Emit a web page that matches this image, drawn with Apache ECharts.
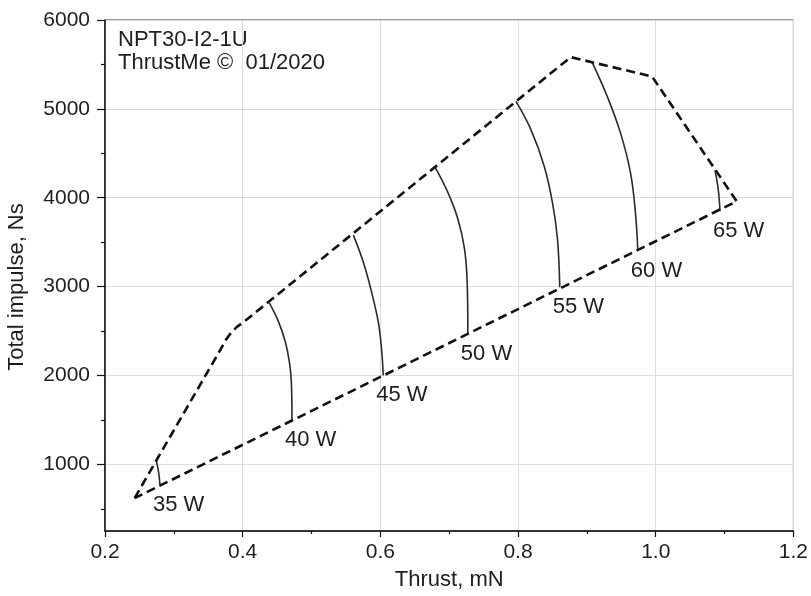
<!DOCTYPE html>
<html><head><meta charset="utf-8">
<script src="https://cdn.jsdelivr.net/npm/echarts@6/dist/echarts.min.js"></script>
<style>html,body{margin:0;padding:0;background:#fff}#c{width:811px;height:596px}</style>
</head><body><div id="c"></div>
<script>
// Axis ticks
const xTickValues = [0.2, 0.4, 0.6, 0.8, 1.0, 1.2];
const yMajorTicks = [1000, 2000, 3000, 4000, 5000, 6000];
const yMinorTicks = [500, 1500, 2500, 3500, 4500, 5500];

// Operating envelope (dashed polygon)
const envelopeThrust  = [0.243, 0.3685, 0.3757, 0.3830, 0.3916, 0.4017, 0.8765, 0.9947, 1.1176, 0.243];
const envelopeImpulse = [620,   2301,   2402,   2480,   2547,   2603,   5582,   5364,   3960,   620];

// Constant-power curves
const powerLabels = ['35 W', '40 W', '45 W', '50 W', '55 W', '60 W', '65 W'];
const isoThrust = [
  [0.2749, 0.2781, 0.2798],
  [0.4389, 0.4523, 0.4620, 0.4678, 0.4707, 0.4716],
  [0.5608, 0.5753, 0.5873, 0.5970, 0.6017, 0.6042],
  [0.6798, 0.6982, 0.7127, 0.7223, 0.7261, 0.7271],
  [0.7970, 0.8187, 0.8380, 0.8500, 0.8573, 0.8606],
  [0.9079, 0.9296, 0.9488, 0.9633, 0.9705, 0.9740],
  [1.0862, 1.0908, 1.0934]
];
const isoImpulse = [
  [1031, 899, 771],
  [2813, 2600, 2376, 2152, 1927, 1497],
  [3579, 3273, 2936, 2600, 2301, 2001],
  [4338, 4057, 3758, 3422, 3048, 2469],
  [5084, 4767, 4355, 3945, 3534, 2992],
  [5521, 5140, 4730, 4282, 3833, 3403],
  [4311, 4094, 3851]
];

const FONT = 'Liberation Sans, Arial, sans-serif';
const TXT = '#1e1e1e';
const zip = (a, b) => a.map((v, i) => [v, b[i]]);

const series = [];
series.push({
  type: 'line', name: 'envelope', data: zip(envelopeThrust, envelopeImpulse),
  symbol: 'none', silent: true, animation: false, z: 3,
  lineStyle: { color: '#111', width: 2.6, type: [9, 5] }
});
isoThrust.forEach((xs, i) => {
  series.push({
    type: 'line', name: powerLabels[i], data: zip(xs, isoImpulse[i]),
    symbol: 'none', smooth: 0.4, silent: true, animation: false, z: 2,
    lineStyle: { color: '#2a2a2a', width: 1.6 }
  });
});
series.push({
  type: 'scatter', name: 'labels', symbolSize: 0, silent: true, animation: false, z: 5,
  itemStyle: { opacity: 1, color: TXT },
  data: isoThrust.map((xs, i) => ({
    value: [xs[xs.length - 1], isoImpulse[i][isoImpulse[i].length - 1]],
    label: { formatter: powerLabels[i], color: TXT, opacity: 1 }
  })),
  label: { show: true, position: 'right', distance: 0, offset: [-7, 20],
    color: TXT, opacity: 1, fontFamily: FONT, fontSize: 22 }
});

const chart = echarts.init(document.getElementById('c'), null, { renderer: 'canvas' });
chart.setOption({
  backgroundColor: '#fff',
  animation: false,
  grid: { left: 105, right: 14, top: 20, bottom: 63, containLabel: false,
    show: true, borderColor: '#333', borderWidth: 1, backgroundColor: 'transparent' },
  xAxis: {
    type: 'value', min: xTickValues[0], max: xTickValues[xTickValues.length - 1], interval: 0.2,
    name: 'Thrust, mN', nameLocation: 'middle', nameGap: 38,
    nameTextStyle: { color: TXT, fontFamily: FONT, fontSize: 22 },
    axisLine: { show: true, onZero: false, lineStyle: { color: '#111', width: 1.5 } },
    axisTick: { show: true, inside: false, length: 6, lineStyle: { color: '#111', width: 1.2 } },
    minorTick: { show: true, splitNumber: 2, length: 3, lineStyle: { color: '#111', width: 1.2 } },
    axisLabel: { color: TXT, fontFamily: FONT, fontSize: 21, margin: 11,
      formatter: v => v.toFixed(1) },
    splitLine: { show: true, lineStyle: { color: '#dcdcdc', width: 1 } }
  },
  yAxis: [{
    type: 'value', min: 250, max: 6000,
    axisLine: { show: true, onZero: false, lineStyle: { color: '#111', width: 1.5 } },
    axisTick: { show: true, inside: false, length: 8, customValues: yMajorTicks,
      lineStyle: { color: '#111', width: 1.2 } },
    axisLabel: { color: TXT, fontFamily: FONT, fontSize: 21, margin: 15, customValues: yMajorTicks,
      formatter: v => String(Math.round(v)) },
    splitLine: { show: true, lineStyle: { color: '#dcdcdc', width: 1 } }
  }, {
    type: 'value', min: 250, max: 6000, position: 'left', offset: 0,
    axisLine: { show: false },
    axisTick: { show: true, inside: false, length: 4, customValues: yMinorTicks,
      lineStyle: { color: '#111', width: 1.2 } },
    axisLabel: { show: false },
    splitLine: { show: false }
  }],
  graphic: [
    { type: 'text', x: 118, y: 40, silent: true,
      style: { text: 'NPT30-I2-1U', fill: TXT, font: '22px ' + FONT, align: 'left', verticalAlign: 'middle' } },
    { type: 'text', x: 118, y: 63, silent: true,
      style: { text: 'ThrustMe ©  01/2020', fill: TXT, font: '22px ' + FONT, align: 'left', verticalAlign: 'middle' } },
    { type: 'text', x: 17, y: 287, rotation: Math.PI / 2, silent: true,
      style: { text: 'Total impulse, Ns', fill: TXT, font: '22px ' + FONT, align: 'center', verticalAlign: 'middle' } }
  ],
  series: series
});
</script>
</body></html>
